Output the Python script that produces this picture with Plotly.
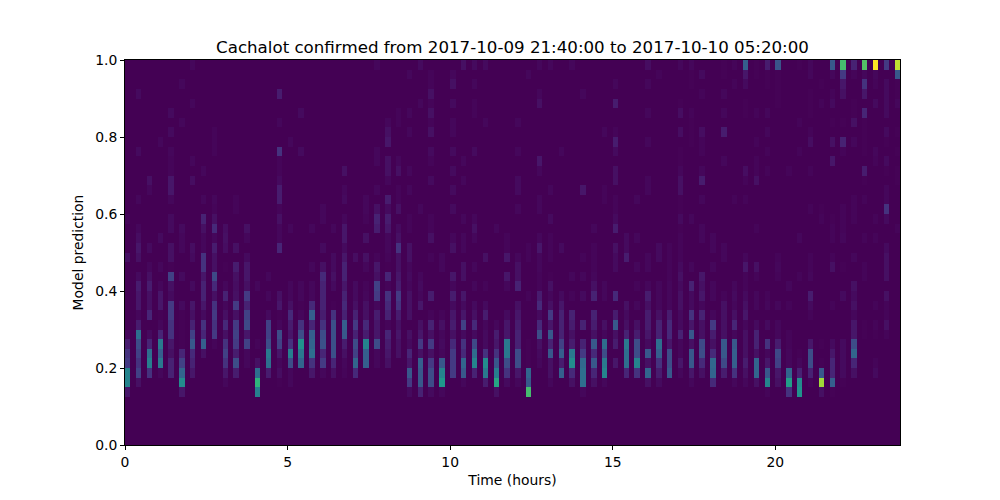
import plotly.graph_objects as go

TITLE = "Cachalot confirmed from 2017-10-09 21:40:00 to 2017-10-10 05:20:00"
x_ticks = [0, 5, 10, 15, 20]
y_ticks = [0.0, 0.2, 0.4, 0.6, 0.8, 1.0]
hours_per_bin = 1 / 6
prediction_per_bin = 0.025
n_rows = 40
n_columns = 72

# intensity per 20-minute column: {prediction bin: level}, levels 0-100
lower_cells = [
 {5:10,6:42,7:42,8:20,9:18,10:12,11:5,19:8},
 {6:8,7:22,8:18,9:22,10:25,11:35,12:12,13:5,14:10,15:10,16:12,17:6,19:8,20:10,21:7},
 {7:18,8:40,9:35,10:15,11:6,13:15,14:8,15:8,16:12,17:8,18:5,20:6},
 {7:5,8:38,9:30,10:38,11:15,12:5,13:3,14:10,15:10,16:5,18:5,21:6},
 {7:14,8:14,9:8,10:10,11:18,12:18,13:20,14:20,15:6,16:8,17:22,18:3,19:8,20:8},
 {5:10,6:45,7:32,8:22,9:15,10:3,11:3,12:3,13:3,14:6,17:6,20:5,21:5},
 {7:10,8:14,9:16,10:28,11:22,12:14,13:8,14:10,16:6,19:6,20:7},
 {9:8,10:30,11:15,12:18,13:6,14:10,15:14,16:14,17:10,18:18,19:18,20:5,21:5},
 {10:4,11:20,12:18,13:20,14:18,15:8,16:16,17:24,18:8,19:8,20:12,21:5},
 {6:5,7:10,8:18,9:22,10:18,11:8,12:16,13:8,14:5,15:14,16:5,18:3,20:7,21:8},
 {7:12,8:25,9:12,10:20,11:22,12:20,13:8,14:20,15:8,16:7,17:8,18:12,20:8},
 {8:5,9:5,10:22,11:10,12:24,13:22,14:14,15:20,16:8,17:10,18:10,19:6,21:5},
 {5:40,6:60,7:35,8:8,10:4,16:5},
 {7:12,8:35,9:38,10:25,11:22,12:22,13:6,15:5,17:5},
 {6:3,7:7,8:5,9:10,10:22,11:25,12:5,13:3,14:10,15:8,20:15,21:5},
 {6:5,7:5,8:25,9:40,10:18,11:10,12:12,13:16,14:8,15:5,16:5},
 {8:32,9:38,10:48,11:25,12:18,13:5,14:3,15:5,16:5},
 {7:10,8:18,9:35,10:32,11:30,12:15,13:30,14:16,15:5,16:5,18:5},
 {7:5,8:20,9:15,10:26,11:25,12:18,13:12,14:14,15:14,16:14,17:16,18:8,20:6},
 {7:8,8:15,9:26,10:26,11:26,12:26,13:18,14:3,16:6,17:8,18:6,19:6},
 {7:4,8:5,9:8,10:12,11:28,12:30,13:14,14:16,15:14,16:10,17:14,18:14,19:10,20:6,21:10},
 {7:16,8:32,9:22,10:25,11:14,12:20,13:14,14:8,15:6,16:6,19:7},
 {8:30,9:30,10:42,11:12,12:16,13:8,14:8,15:5,16:4,18:5,19:8,21:8},
 {8:5,9:5,10:25,11:10,12:10,13:12,14:5,15:20,16:22,17:8,18:10,19:4},
 {8:8,9:10,10:12,11:15,12:4,13:14,14:16,15:18,16:4,17:15,18:2,19:4,20:5,21:5},
 {9:8,10:8,11:10,12:8,13:12,14:18,15:20,16:12,17:10,18:8,19:8,20:18,21:8},
 {5:6,6:20,7:28,8:10,9:15,10:6,11:8,13:8,14:8,15:8,16:5,17:6,18:5,19:8,20:8},
 {5:14,6:28,7:28,8:30,9:8,10:20,11:10,12:8,14:10,15:5,16:6,17:5},
 {5:6,6:25,7:25,8:20,9:8,10:20,11:8,12:14,13:4,15:12,19:4,21:8},
 {5:5,6:50,7:42,8:28,9:5,10:6,11:5,12:8,13:4,18:5,19:5},
 {7:20,8:20,9:20,10:16,11:8,12:12,13:10,14:6,15:12,16:5,17:10,20:8,21:5},
 {6:5,7:28,8:32,9:16,10:18,11:6,12:22,13:10,14:6,15:10,17:8,18:8,20:5,21:5},
 {7:14,8:42,9:34,10:24,11:6,12:16,13:8,14:6,16:5,18:5,21:5},
 {6:12,7:38,8:45,9:18,10:6,11:6,12:5,13:12,14:6,16:4,19:8},
 {5:8,6:55,7:40,8:28,9:18,10:10,11:12,12:5},
 {6:6,7:18,8:25,9:38,10:38,11:10,12:10,13:6,16:5,17:10,19:10,20:4,21:4},
 {6:5,7:10,8:25,9:25,10:14,11:14,12:12,13:10,14:8,16:14,17:8,18:8,19:5},
 {5:65,6:28,7:32,8:3,9:3,10:3,15:4,19:4,20:4},
 {8:5,9:6,10:8,11:25,12:16,13:6,14:16,15:12,16:4,17:4,18:5,19:5,20:10,21:5},
 {6:5,7:8,8:8,9:28,10:14,11:28,12:10,13:20,14:8,15:5,16:8,17:3,19:4,20:4,21:4},
 {7:30,8:12,9:30,10:22,11:14,12:14,13:14,14:10,15:6,20:6},
 {6:8,7:16,8:45,9:38,10:12,11:8,12:12,13:14,15:4,17:5},
 {5:5,6:35,7:35,8:33,9:20,10:14,12:14,15:6,17:5,19:4},
 {6:8,7:15,8:28,9:16,10:28,11:8,12:12,13:14,15:14,16:8,17:5,18:4,19:4,20:4},
 {6:5,7:42,8:38,9:25,10:34,11:5,12:8,15:5,16:5},
 {8:10,10:12,11:8,12:28,13:12,15:16,18:6,19:6,20:8},
 {7:15,8:35,9:35,10:38,11:14,12:8,13:6,14:8,19:12,20:6,21:6},
 {7:18,8:42,9:25,10:25,11:12,12:8,14:5,16:4,18:5,21:5},
 {6:8,7:32,8:8,9:28,10:6,11:10,12:12,13:12,14:8,15:12,16:5,18:5,19:5},
 {6:6,7:12,8:18,9:30,10:35,11:14,12:14,13:8,14:5,15:5,16:5,19:6,20:6},
 {7:28,8:25,9:25,10:10,11:16,12:16,13:12,14:5,15:5,16:5,17:4,18:4,19:4,20:4},
 {7:5,8:10,9:5,10:5,11:14,12:6,13:6,14:8,15:8,16:6,17:8,18:6,19:4,20:4,21:4},
 {6:5,7:10,8:28,9:28,10:8,11:28,12:10,13:18,14:6,15:6,16:14,18:5},
 {7:8,8:16,9:25,10:24,11:8,12:8,13:14,14:5,15:10,16:8,17:10,21:5},
 {6:16,7:32,8:33,9:16,10:8,11:12,12:20,13:5,15:5,16:5,18:5,20:5,21:5},
 {7:12,8:24,9:28,10:28,11:8,12:8,13:8,14:8,15:4,19:5,20:5},
 {6:5,7:18,8:30,9:30,10:28,11:5,12:15,13:8,14:5,15:6,16:5},
 {6:5,7:8,8:12,9:8,10:8,11:8,12:5,13:10,14:8,15:6,16:4,17:4,18:10,19:5},
 {6:8,7:32,8:32,9:8,10:14,11:14,12:6,14:5,15:5,17:4,18:8},
 {5:4,6:42,7:28,8:10,9:5,10:18,12:6,14:5,15:4},
 {6:8,7:10,8:22,9:24,10:12,11:5,12:5,14:5,17:4,18:5,19:4},
 {5:18,6:52,7:32,8:5,9:5,10:4,11:4,14:4,16:5},
 {5:48,6:45,7:14,8:5,9:3,17:4,21:5},
 {6:4,7:14,8:25,9:25,10:10,13:4,14:6,15:12,17:5,18:4,19:4},
 {5:8,6:85,7:28,8:3,10:3},
 {5:3,6:30,7:15,8:15,9:10,10:6,14:4,18:8,19:4,21:4},
 {6:3,7:6,8:6,9:6,10:6,15:6,18:3,21:5},
 {7:8,8:15,9:32,10:25,11:10,12:10,13:5,14:8,15:6,16:8,19:5},
 {11:3,12:3,17:4,18:4,21:4},
 {7:6,8:4,11:3,12:4,14:4,21:4},
 {11:4,12:8,13:4,14:4,15:8,17:8,18:8,19:8,20:6},
 {},
]

upper_cells = {
 0:{23:4}, 1:{36:6,30:6,25:5,22:5}, 2:{27:8,26:5}, 3:{31:5},
 4:{34:6,32:6,30:5,29:4,28:4,27:10,26:10,25:5,23:6,22:6},
 5:{37:5,33:5,22:6}, 6:{39:5,35:5,29:5,27:7}, 7:{28:5,25:5,23:14,22:8},
 8:{32:4,31:4,30:4,25:5,24:4,23:8,22:16}, 9:{22:7}, 10:{25:4,24:4}, 11:{22:8},
 14:{36:12,33:5,30:18,29:4,28:4,27:6,26:12,25:12,24:4,23:8,22:5},
 15:{31:5,22:5}, 16:{34:6,30:6}, 17:{22:5}, 18:{24:5,23:5}, 19:{22:5},
 20:{28:8,26:5,25:6,23:5,22:10}, 22:{25:5,24:5,23:4},
 23:{39:5,30:5,29:5,26:5,24:8,23:14,22:12},
 24:{33:5,32:8,31:10,29:8,28:8,27:5,25:12,24:6,23:12,22:10},
 25:{34:4,33:4,29:5,28:8,26:4,25:4,24:8,22:6},
 26:{38:5,34:5,32:5,28:5,26:5,23:4,22:4},
 27:{39:6,35:5,24:5},
 28:{38:4,37:4,36:8,35:4,34:8,33:4,32:8,30:6,29:4,27:6,23:4,22:4},
 30:{38:5,37:8,35:6,33:5,32:5,30:6,28:6,26:6,24:6},
 31:{39:8,29:5,27:5,23:5},
 32:{39:6,37:5,35:4,34:4,30:6,23:5,22:8}, 33:{39:6,33:5},
 34:{22:5}, 36:{33:5,30:5,27:6,26:6,24:5}, 37:{38:5},
 38:{39:5,36:5,35:8,29:10,28:5,25:5,24:5}, 39:{39:5,26:5,23:6},
 40:{30:5}, 41:{39:5}, 42:{36:5,26:10}, 43:{22:5}, 44:{32:5,26:4,25:4},
 45:{37:5,35:12,32:4,31:12,30:6,28:8,27:8,25:4,24:4,23:6,22:12},
 47:{25:5},
 48:{39:7,37:5,34:5,31:5,27:5,26:5}, 49:{38:4},
 51:{39:5,35:3,34:7,32:7,30:3,29:3,28:5,27:8,26:8,25:3,24:3,23:6,22:3},
 52:{39:5,38:3,37:3,34:4,33:3,32:3,31:3,23:5},
 53:{38:6,36:4,32:7,31:4,30:4,28:5,27:12,25:5,22:5},
 55:{39:3,38:3,36:5,34:5,32:12,29:5}, 56:{39:4,37:4,25:4},
 57:{39:30,38:10,37:6,35:3,34:3,28:7,27:4,25:4},
 58:{39:3,38:3,34:4,31:4,29:4,28:4,27:8,22:4},
 59:{39:12,38:3,37:3,34:5,32:5,30:4,28:4},
 60:{39:27,38:3,37:3,36:3,35:3}, 61:{28:4}, 62:{39:3,33:4,30:4},
 63:{39:5,38:5,36:3,35:3,34:3,32:4,31:7,28:4,24:4}, 64:{37:3,35:4,24:3,23:4},
 65:{39:28,38:5,36:4,35:6,33:3,31:8,29:10,23:3,22:4},
 66:{39:65,38:20,37:10,36:8,33:3,31:14,30:4,24:4,23:4,22:4},
 67:{39:14,38:4,35:3,34:3,33:8,31:5,25:4,24:4,23:4},
 68:{39:68,38:5,37:18,36:10,34:15,33:3,32:3,31:3,30:3,28:12,27:3,25:4},
 69:{39:100,38:5,37:4,35:6,30:5,29:4,23:4},
 70:{39:20,37:6,36:6,35:6,34:6,32:6,31:3,29:6,28:3,26:5,25:5,24:18,23:6},
 71:{39:90,38:28,37:3,36:3,35:5,32:3,30:3,28:3,27:3,22:4},
}

# viridis, calibrated to the level scale
color_stops = [
    [0.00, "#440154"], [0.03, "#450356"], [0.05, "#45075b"], [0.10, "#471669"],
    [0.15, "#472576"], [0.20, "#443a83"], [0.30, "#355f8d"], [0.40, "#277f8e"],
    [0.50, "#1f988b"], [0.60, "#2fb47c"], [0.85, "#a0da39"], [1.00, "#fde725"],
]

# occupied columns alternate with empty bins, as in the binned original
z = [[0] * (2 * n_columns - 1) for _ in range(n_rows)]
for k in range(n_columns):
    for r, v in lower_cells[k].items():
        z[r][2 * k] = v
    for r, v in upper_cells.get(k, {}).items():
        z[r][2 * k] = v

x_end = (2 * n_columns - 1) * hours_per_bin
FONT = "DejaVu Sans"

fig = go.Figure(go.Heatmap(
    z=z,
    x0=hours_per_bin / 2, dx=hours_per_bin,
    y0=prediction_per_bin / 2, dy=prediction_per_bin,
    zmin=0, zmax=100, colorscale=color_stops, showscale=False,
))

axis_common = dict(
    showgrid=False, zeroline=False, showline=True, mirror=True,
    linecolor="black", linewidth=1, ticks="outside", ticklen=4, tickwidth=1,
    tickcolor="black", tickfont=dict(family=FONT, size=13.9, color="black"),
)
fig.update_xaxes(
    range=[0, x_end], tickmode="array", tickvals=x_ticks,
    ticktext=[str(t) for t in x_ticks],
    title=dict(text="Time (hours)", font=dict(family=FONT, size=13.9, color="black"), standoff=6),
    **axis_common,
)
fig.update_yaxes(
    range=[0, 1], tickmode="array", tickvals=y_ticks,
    ticktext=[f"{t:.1f}" for t in y_ticks],
    title=dict(text="Model prediction", font=dict(family=FONT, size=13.9, color="black"), standoff=8),
    **axis_common,
)
fig.update_layout(
    width=1000, height=500, autosize=False,
    margin=dict(l=117, r=108, t=52, b=63, pad=0),
    paper_bgcolor="white", plot_bgcolor="#440154",
    title=dict(text=TITLE, x=0.5, xref="paper", xanchor="center",
               y=1, yref="paper", yanchor="bottom", pad=dict(b=7),
               font=dict(family=FONT, size=16.67, color="black")),
)
fig.write_html("out.html")
